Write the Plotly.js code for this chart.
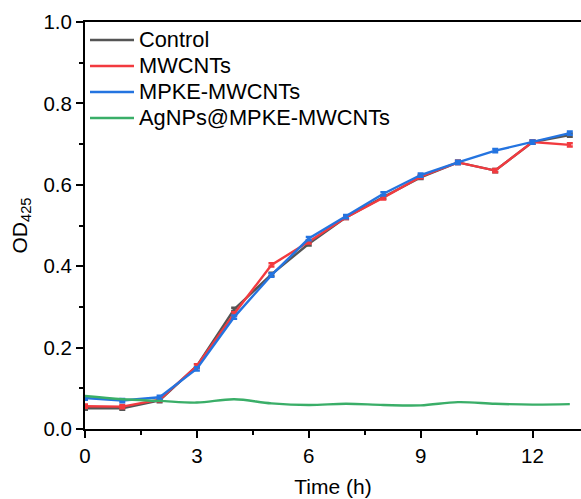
<!DOCTYPE html>
<html><head><meta charset="utf-8">
<script src="https://cdn.plot.ly/plotly-3.0.1.min.js"></script>
<style>html,body{margin:0;padding:0;background:#fff}#c{width:581px;height:499px}</style>
</head><body><div id="c"></div>
<script>
const hours = [0,1,2,3,4,5,6,7,8,9,10,11,12,13];
const control = [0.051,0.051,0.070,0.155,0.294,0.380,0.455,0.520,0.570,0.618,0.655,0.635,0.705,0.722];
const mwcnts  = [0.056,0.055,0.072,0.155,0.283,0.403,0.460,0.520,0.568,0.620,0.655,0.635,0.705,0.698];
const mpke    = [0.076,0.070,0.078,0.148,0.275,0.378,0.468,0.522,0.578,0.624,0.655,0.684,0.705,0.727];
const agnps   = [0.081,0.073,0.069,0.065,0.073,0.063,0.059,0.062,0.059,0.058,0.066,0.062,0.060,0.061];
const errs    = [0.004,0.004,0.004,0.004,0.004,0.004,0.004,0.004,0.004,0.004,0.004,0.004,0.004,0.004];
const names = ['Control','MWCNTs','MPKE-MWCNTs','AgNPs@MPKE-MWCNTs'];
const colors = ['#555555','#f23a3f','#2474e0','#3aae68'];
const series = [control, mwcnts, mpke, agnps];
const traces = series.map((ys,i)=>({
  x: hours, y: ys, name: '<span style="font-size:21.8px">' + names[i] + '</span>', type:'scatter', mode:'lines',
  line:{color:colors[i], width:2.4, shape: i===3 ? 'spline' : 'linear'},
  error_y: i===3 ? {visible:false} : {type:'data', array: errs, color: colors[i], thickness:2.5, width:3}
}));
const font = {family:'"Liberation Sans", Arial, sans-serif', size:20.5, color:'#000'};
const lfont = {family:'"Liberation Sans", Arial, sans-serif', size:17.7, color:'#000'};
const tfont = {family:'"Liberation Sans", Arial, sans-serif', size:21, color:'#000'};
const layout = {
  width:581, height:499,
  margin:{l:85, r:0, t:22, b:70},
  paper_bgcolor:'#fff', plot_bgcolor:'#fff',
  font: font,
  showlegend:true,
  legend:{x:0, y:1.0, xanchor:'left', yanchor:'top', bgcolor:'rgba(0,0,0,0)', font:lfont, itemwidth:44, tracegroupgap:0},
  xaxis:{range:[0,13.3], tickvals:[0,3,6,9,12], ticks:'outside', ticklen:7, tickwidth:2, tickcolor:'#000',
    showline:true, linewidth:2, linecolor:'#000', mirror:true, showgrid:false, zeroline:false,
    minor:{tickvals:[1.5,4.5,7.5,10.5], ticks:'outside', ticklen:4, tickwidth:2, tickcolor:'#000'},
    title:{text:'Time (h)', font:tfont, standoff:14}, tickfont:font},
  yaxis:{range:[0,1.0], tickvals:[0,0.2,0.4,0.6,0.8,1.0], ticktext:['0.0','0.2','0.4','0.6','0.8','1.0'],
    ticks:'outside', ticklen:7, tickwidth:2, tickcolor:'#000',
    showline:true, linewidth:2, linecolor:'#000', showgrid:false, zeroline:false,
    minor:{tickvals:[0.1,0.3,0.5,0.7,0.9], ticks:'outside', ticklen:4, tickwidth:2, tickcolor:'#000'},
    title:{text:'OD<sub>425</sub>', font:tfont, standoff:10}, tickfont:font}
};
Plotly.newPlot('c', traces, layout, {displayModeBar:false, staticPlot:true});
</script></body></html>
